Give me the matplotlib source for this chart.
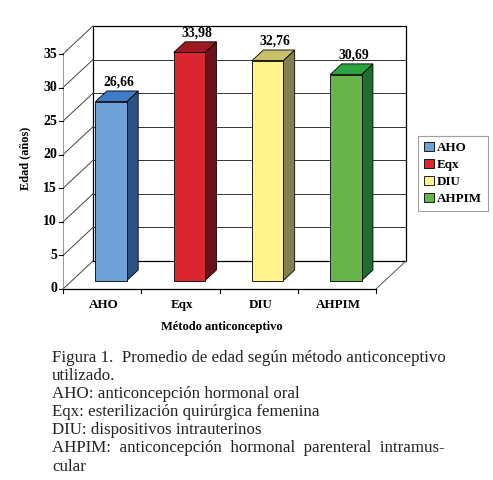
import matplotlib
matplotlib.use('Agg')

import matplotlib.pyplot as plt
from matplotlib.patches import Polygon, Patch

metodos = ["AHO", "Eqx", "DIU", "AHPIM"]
edades = [26.66, 33.98, 32.76, 30.69]
etiquetas = ["26,66", "33,98", "32,76", "30,69"]
y_ticks = [0, 5, 10, 15, 20, 25, 30, 35]

front_colors = ["#6fa1d9", "#d9262f", "#fff38e", "#68b44c"]
side_colors = ["#2d5282", "#6c1119", "#857f4c", "#1f6e31"]
top_colors = ["#3f7cc8", "#9d1a22", "#c9c06c", "#2ba43f"]

caption = [
    "Figura 1.  Promedio de edad según método anticonceptivo",
    "utilizado.",
    "AHO: anticoncepción hormonal oral",
    "Eqx: esterilización quirúrgica femenina",
    "DIU: dispositivos intrauterinos",
    "AHPIM:  anticoncepción  hormonal  parenteral  intramus-",
    "cular",
]

W, H = 493, 480
fig = plt.figure(figsize=(W / 100, H / 100), dpi=100)
ax = fig.add_axes([63 / W, (H - 289) / H, (376 - 63) / W, (289 - 54) / H])
ax.set_xlim(-0.5, 3.5)
ax.set_ylim(0, 35)
ax.axis("off")

DX, DY = 30, 28  # depth of the box in pixels
serif_b = dict(family="Liberation Serif", weight="bold")


def pt(x, y, d=0.0):
    """data point + depth fraction -> figure fraction"""
    px, py = ax.transData.transform((x, y))
    px += d * DX
    py += d * DY
    return fig.transFigure.inverted().transform((px, py))


def line(p, q, color="black", lw=0.8):
    fig.add_artist(plt.Line2D([p[0], q[0]], [p[1], q[1]], color=color, lw=lw,
                              transform=fig.transFigure))


def poly(pts, fc, ec="black", lw=0.6, z=2):
    fig.add_artist(Polygon(pts, closed=True, facecolor=fc, edgecolor=ec, lw=lw,
                           transform=fig.transFigure, zorder=z))


x0, x1 = -0.5, 3.5
ytop = y_ticks[-1]

# back wall
poly([pt(x0, 0, 1), pt(x1, 0, 1), pt(x1, ytop, 1), pt(x0, ytop, 1)], "white", lw=0.9, z=1)
for v in y_ticks[1:-1]:
    line(pt(x0, v, 1), pt(x1, v, 1), color="#333333", lw=0.7)
# left wall diagonals
for v in y_ticks:
    line(pt(x0, v, 0), pt(x0, v, 1), color="#444444", lw=0.7)
line(pt(x0, 0, 0), pt(x0, ytop, 0), color="#888888", lw=0.6)
# floor
line(pt(x0, 0, 0), pt(x1, 0, 0), color="black", lw=0.9)
line(pt(x1, 0, 0), pt(x1, 0, 1), color="#555555", lw=0.7)

# ticks and tick labels
for v in y_ticks:
    a = pt(x0, v, 0)
    line(a, (a[0] - 4 / W, a[1]), lw=0.8)
    fig.text(a[0] - 6 / W, a[1], str(v), ha="right", va="center", fontsize=10, **serif_b)
for k in range(len(metodos) + 1):
    a = pt(x0 + k, 0, 0)
    line(a, (a[0], a[1] - 4 / H), lw=0.8)
for k, m in enumerate(metodos):
    a = pt(k, 0, 0)
    fig.text(a[0] + 2 / W, a[1] - 16 / H, m, ha="center", va="center", fontsize=9.4, **serif_b)

# bars
bw = 0.2
d0, d1 = 0.3, 0.68
for k, v in enumerate(edades):
    l, r = k - bw, k + bw
    poly([pt(r, 0, d0), pt(r, 0, d1), pt(r, v, d1), pt(r, v, d0)], side_colors[k], z=3)
    poly([pt(l, v, d0), pt(r, v, d0), pt(r, v, d1), pt(l, v, d1)], top_colors[k], z=3)
    poly([pt(l, 0, d0), pt(r, 0, d0), pt(r, v, d0), pt(l, v, d0)], front_colors[k], z=4)
    c = pt(k, v, (d0 + d1) / 2)
    fig.text(c[0] + 2 / W, c[1] + 14 / H, etiquetas[k], ha="center", va="center",
             fontsize=9.8, **serif_b)

# axis titles
fig.text(222 / W, 1 - 327 / H, "Método anticonceptivo", ha="center", va="center",
         fontsize=9, **serif_b)
fig.text(25 / W, 1 - 158 / H, "Edad (años)", ha="center", va="center", rotation=90,
         fontsize=8.9, **serif_b)

# legend
handles = [Patch(facecolor=front_colors[k], edgecolor="black", lw=0.6, label=m)
           for k, m in enumerate(metodos)]
leg = fig.legend(handles=handles, loc="upper left", bbox_to_anchor=(418 / W, 1 - 136 / H),
                 frameon=True, fancybox=False, edgecolor="#888888",
                 prop=dict(family="Liberation Serif", weight="bold", size=9.4),
                 handlelength=0.75, handleheight=0.75, handletextpad=0.25,
                 labelspacing=0.35, borderpad=0.45, borderaxespad=0)
leg.get_frame().set_linewidth(0.8)

# caption
for i, txt in enumerate(caption):
    fig.text(52 / W, 1 - (358 + i * 18.1) / H, txt, ha="left", va="center",
             fontsize=12.2, family="Liberation Serif", color="#222222")

fig.savefig("out.png", dpi=100)
